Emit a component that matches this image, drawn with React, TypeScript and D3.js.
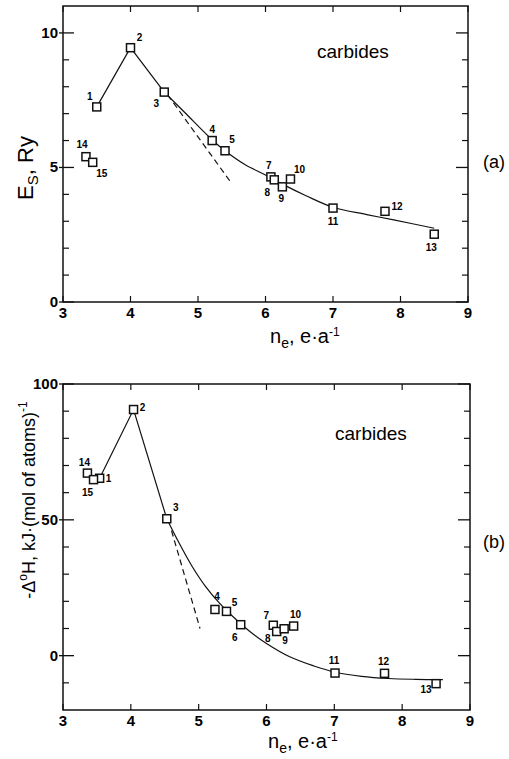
import React from 'react';
import * as d3 from 'd3';

// (a) surface energy of the carbides
const idsA = [1, 2, 3, 4, 5, 7, 8, 9, 10, 11, 12, 13, 14, 15];
const neA = [3.5, 4.0, 4.5, 5.21, 5.4, 6.08, 6.13, 6.25, 6.37, 7.0, 7.77, 8.5, 3.34, 3.44];
const esA = [7.25, 9.45, 7.8, 6.0, 5.62, 4.65, 4.54, 4.28, 4.57, 3.49, 3.37, 2.52, 5.4, 5.19];
// solid curve: sharp peak, then smooth fall
const peakLineA = [[3.5, 7.25], [4.0, 9.45], [4.5, 7.8]];
const tailLineA = [[4.5, 7.8], [4.8, 7.05], [5.2, 6.05], [5.4, 5.62], [5.7, 5.1], [6.0, 4.72], [6.25, 4.38],
  [6.6, 3.95], [7.0, 3.52], [7.5, 3.25], [7.9, 3.05], [8.5, 2.74]];
const dashLineA = [[4.55, 7.7], [5.5, 4.4]];

// (b) enthalpy of formation
const idsB = [1, 2, 3, 4, 5, 6, 7, 8, 9, 10, 11, 12, 13, 14, 15];
const neB = [3.54, 4.04, 4.53, 5.24, 5.41, 5.62, 6.1, 6.15, 6.26, 6.4, 7.01, 7.74, 8.5, 3.36, 3.45];
const dhB = [65.3, 90.6, 50.4, 17.0, 16.3, 11.4, 11.2, 8.9, 9.9, 10.9, -6.4, -6.5, -10.3, 67.2, 64.8];
const peakLineB = [[3.54, 65.3], [4.04, 90.6], [4.53, 50.4]];
const tailLineB = [[4.53, 50.4], [4.7, 42], [4.9, 33], [5.1, 25.5], [5.3, 19.5], [5.5, 14.5], [5.75, 9],
  [6.0, 4.5], [6.35, -0.5], [6.7, -3.8], [7.0, -6.0], [7.4, -7.6], [7.8, -8.4], [8.2, -8.7], [8.6, -8.8]];
const dashLineB = [[4.6, 46], [5.02, 10]];

const xTicks = [3, 4, 5, 6, 7, 8, 9];
const yMajorA = [0, 5, 10];
const yMajorB = [0, 50, 100];

// label offsets (px) from each marker centre
const offA: Record<number, [number, number]> = {
  1: [-7, -10], 2: [9, -10], 3: [-8, 11], 4: [0, -11], 5: [7, -11], 7: [-2, -11], 8: [-7, 13],
  9: [-1, 12], 10: [9, -10], 11: [0, 13], 12: [12, -5], 13: [-3, 13], 14: [-4, -12], 15: [9, 11],
};
const offB: Record<number, [number, number]> = {
  1: [9, 0], 2: [9, -2], 3: [9, -11], 4: [2, -13], 5: [8, -9], 6: [-6, 13], 7: [-7, -10],
  8: [-9, 7], 9: [1, 12], 10: [2, -12], 11: [-1, -13], 12: [-1, -12], 13: [-10, 6], 14: [-3, -11], 15: [-6, 13],
};

const font = 'Liberation Sans, Arial, Helvetica, sans-serif';

type PanelProps = {
  x: d3.ScaleLinear<number, number>;
  y: d3.ScaleLinear<number, number>;
  ids: number[];
  xs: number[];
  ys: number[];
  peak: number[][];
  tail: number[][];
  dash: number[][];
  minor: number[];
  major: number[];
  offsets: Record<number, [number, number]>;
};

const Panel = ({ x, y, ids, xs, ys, peak, tail, dash, minor, major, offsets }: PanelProps) => {
  const [x0, x1] = x.range();
  const [y1, y0] = y.range();
  const lin = d3.line<number[]>().x(d => x(d[0])).y(d => y(d[1]));
  const smooth = d3.line<number[]>().x(d => x(d[0])).y(d => y(d[1])).curve(d3.curveCatmullRom);
  const s = 8;
  return (
    <g>
      <rect x={x0} y={y0} width={x1 - x0} height={y1 - y0} fill="none" stroke="#111" strokeWidth={1.5} />
      {minor.map(v => (
        <g key={'mi' + v}>
          <line x1={x0} x2={x0 + 6} y1={y(v)} y2={y(v)} stroke="#111" strokeWidth={1.2} />
          <line x1={x1 - 6} x2={x1} y1={y(v)} y2={y(v)} stroke="#111" strokeWidth={1.2} />
        </g>
      ))}
      {major.map(v => (
        <g key={'ma' + v}>
          <line x1={x0 - 4} x2={x0 + 11} y1={y(v)} y2={y(v)} stroke="#111" strokeWidth={1.3} />
          <line x1={x1 - 12} x2={x1} y1={y(v)} y2={y(v)} stroke="#111" strokeWidth={1.3} />
          <text x={x0 - 5} y={y(v) + 5} textAnchor="end" fontSize={15} fontWeight="bold" fontFamily={font}>{v}</text>
        </g>
      ))}
      {xTicks.map(v => (
        <g key={'x' + v}>
          <line x1={x(v)} x2={x(v)} y1={y1} y2={y1 - 6} stroke="#111" strokeWidth={1.2} />
          <line x1={x(v)} x2={x(v)} y1={y0} y2={y0 + 6} stroke="#111" strokeWidth={1.2} />
          <text x={x(v)} y={y1 + 16} textAnchor="middle" fontSize={15} fontWeight="bold" fontFamily={font}>{v}</text>
        </g>
      ))}
      <path d={lin(peak) || ''} fill="none" stroke="#111" strokeWidth={1.2} />
      <path d={smooth(tail) || ''} fill="none" stroke="#111" strokeWidth={1.2} />
      <path d={lin(dash) || ''} fill="none" stroke="#111" strokeWidth={1.2} strokeDasharray="6,4" />
      {ids.map((id, i) => (
        <g key={'p' + id}>
          <rect x={x(xs[i]) - s / 2} y={y(ys[i]) - s / 2} width={s} height={s} fill="#fff" stroke="#111" strokeWidth={1.5} />
          <text x={x(xs[i]) + offsets[id][0]} y={y(ys[i]) + offsets[id][1] + 3.5} textAnchor="middle"
            fontSize={10} fontWeight="bold" fontFamily={font}>{id}</text>
        </g>
      ))}
    </g>
  );
};

const XTitle = ({ x, y }: { x: number; y: number }) => (
  <text x={x} y={y} fontSize={20} fontFamily={font}>
    n<tspan dy={5} fontSize={14}>e</tspan><tspan dy={-5}>, e·a</tspan><tspan dy={-7} fontSize={12}>-1</tspan>
  </text>
);

export default function App() {
  const xA = d3.scaleLinear().domain([3, 9]).range([63, 468]);
  const yA = d3.scaleLinear().domain([0, 11]).range([302, 6]);
  const xB = d3.scaleLinear().domain([3, 9]).range([63, 470]);
  const yB = d3.scaleLinear().domain([-20, 100]).range([710, 384]);

  return (
    <svg width={509} height={759} style={{ position: 'absolute', left: 0, top: 0, background: '#fff' }}>
      <Panel x={xA} y={yA} ids={idsA} xs={neA} ys={esA} peak={peakLineA} tail={tailLineA} dash={dashLineA}
        minor={d3.range(1, 11).filter(v => !yMajorA.includes(v))} major={yMajorA} offsets={offA} />
      <Panel x={xB} y={yB} ids={idsB} xs={neB} ys={dhB} peak={peakLineB} tail={tailLineB} dash={dashLineB}
        minor={d3.range(-10, 100, 10).filter(v => !yMajorB.includes(v))} major={yMajorB} offsets={offB} />

      <text x={317} y={58} fontSize={19} fontFamily={font}>carbides</text>
      <text x={335} y={440} fontSize={19} fontFamily={font}>carbides</text>
      <text x={483} y={168} fontSize={18} fontFamily={font}>(a)</text>
      <text x={483} y={548} fontSize={18} fontFamily={font}>(b)</text>

      <XTitle x={270} y={343} />
      <XTitle x={268} y={748} />

      <text transform="translate(33,168) rotate(-90)" textAnchor="middle" fontSize={22} fontFamily={font}>
        E<tspan dy={5} fontSize={15}>S</tspan><tspan dy={-5}>, Ry</tspan>
      </text>
      <text transform="translate(35,500) rotate(-90)" textAnchor="middle" fontSize={18} fontFamily={font}>
        -Δ<tspan dy={-8} fontSize={12}>o</tspan><tspan dy={8}>H, kJ·(mol of atoms)</tspan><tspan dy={-8} fontSize={12}>-1</tspan>
      </text>
    </svg>
  );
}
